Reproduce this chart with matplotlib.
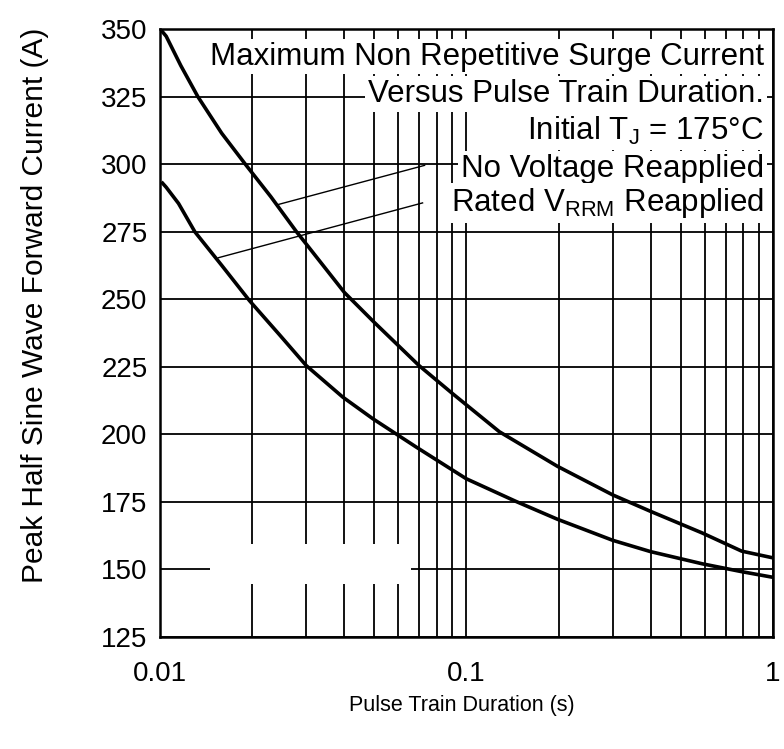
import numpy as np
import matplotlib
matplotlib.use("Agg")
import matplotlib.pyplot as plt
from matplotlib.patches import Rectangle
from matplotlib.ticker import FixedLocator, NullFormatter

plt.rcParams['font.family'] = ['Liberation Sans', 'DejaVu Sans']
plt.rcParams['mathtext.fontset'] = 'custom'
plt.rcParams['mathtext.rm'] = 'Liberation Sans'

# pulse train duration (s) and peak current (A)
no_volt_t = [0.0102, 0.01048, 0.0117, 0.0133, 0.0159, 0.0190, 0.0230, 0.0279,
             0.0300, 0.0400, 0.0500, 0.0700, 0.0903, 0.128, 0.198, 0.300,
             0.399, 0.588, 0.79, 1.0]
no_volt_i = [349.0, 347.4, 336.5, 325.0, 311.5, 300.0, 288.0, 275.0,
             270.5, 252.5, 241.5, 225.5, 215.0, 201.0, 188.2, 177.6,
             171.5, 163.5, 156.8, 154.3]

rated_t = [0.0102, 0.01048, 0.0115, 0.0130, 0.0159, 0.0196, 0.0245, 0.0300,
           0.0395, 0.0495, 0.0686, 0.0998, 0.145, 0.198, 0.300, 0.399,
           0.588, 0.79, 1.0]
rated_i = [293.0, 291.5, 285.5, 275.0, 262.6, 249.5, 237.0, 225.5,
           213.8, 205.8, 195.3, 183.6, 175.2, 168.6, 160.8, 156.6,
           152.1, 149.2, 147.1]

# leader lines from the labels to the curves
leader_no_volt = ([0.0243, 0.073], [285.1, 299.6])
leader_rated = ([0.0155, 0.0719], [265.4, 285.7])

y_ticks = [125, 150, 175, 200, 225, 250, 275, 300, 325, 350]
x_ticks = [0.01, 0.1, 1]
x_tick_labels = ['0.01', '0.1', '1']
x_minor = [m * d for d in (0.01, 0.1) for m in range(2, 10)]

notes = [
    'Maximum Non Repetitive Surge Current',
    'Versus Pulse Train Duration.',
    r'Initial T$_\mathregular{J}$ = 175°C',
    'No Voltage Reapplied',
    r'Rated V$_\mathregular{RRM}$ Reapplied',
]
note_y = [0.955, 0.893, 0.833, 0.770, 0.714]

fig = plt.figure(figsize=(7.84, 7.49), dpi=100)
ax = fig.add_axes([0.204, 0.1495, 0.782, 0.8115])

ax.set_xscale('log')
ax.set_xlim(0.01, 1)
ax.set_ylim(125, 350)

ax.set_yticks(y_ticks)
ax.set_xticks(x_ticks)
ax.set_xticklabels(x_tick_labels)
ax.xaxis.set_minor_locator(FixedLocator(x_minor))
ax.xaxis.set_minor_formatter(NullFormatter())
ax.tick_params(axis='both', which='both', length=0, labelsize=20)
ax.tick_params(axis='y', pad=9)
ax.tick_params(axis='x', pad=17)

ax.grid(True, which='major', axis='y', color='black', lw=1.3)
ax.grid(True, which='both', axis='x', color='black', lw=1.3)
ax.set_axisbelow(True)
for s in ax.spines.values():
    s.set_linewidth(1.8)

# blank patch in the lower-left of the grid
ax.add_patch(Rectangle((0.01455, 144.8), 0.0657 - 0.01455, 159.6 - 144.8,
                       facecolor='white', edgecolor='none', zorder=1.5))

ax.plot(no_volt_t, no_volt_i, color='black', lw=2.6, zorder=3,
        solid_joinstyle='round')
ax.plot(rated_t, rated_i, color='black', lw=2.6, zorder=3,
        solid_joinstyle='round')
ax.plot(*leader_no_volt, color='black', lw=1.0, zorder=3)
ax.plot(*leader_rated, color='black', lw=1.0, zorder=3)

for txt, yy in zip(notes, note_y):
    ax.text(0.985, yy, txt, transform=ax.transAxes, ha='right', va='center',
            fontsize=22.5, zorder=4,
            bbox=dict(facecolor='white', edgecolor='none', pad=2))

ax.set_ylabel('Peak Half Sine Wave Forward Current (A)', fontsize=21.5)
ax.yaxis.set_label_coords(-0.181, 0.546)
ax.set_xlabel('Pulse Train Duration (s)', fontsize=15.5)
ax.xaxis.set_label_coords(0.492, -0.0954)

fig.savefig('out.png', dpi=100, facecolor='white')
